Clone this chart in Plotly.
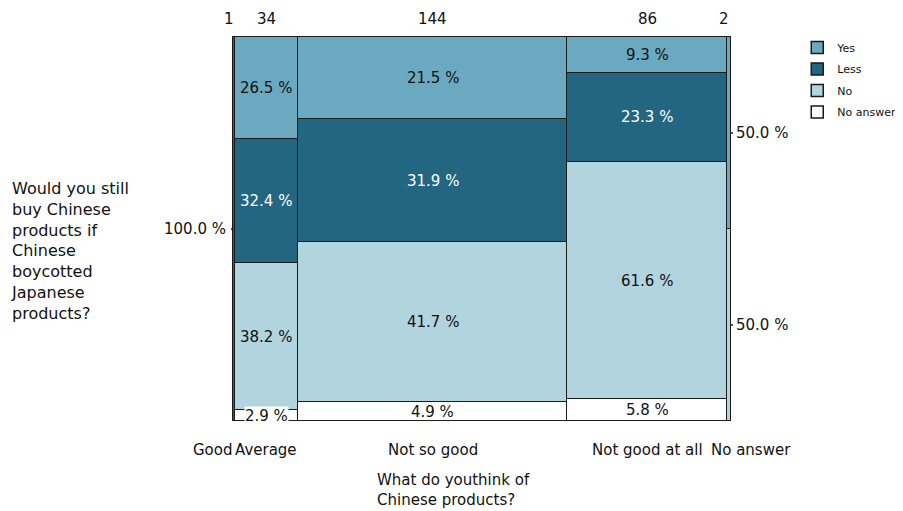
import plotly.graph_objects as go

# ---- data ----
columns = ["Good", "Average", "Not so good", "Not good at all", "No answer"]
counts = [1, 34, 144, 86, 2]
answers = ["Yes", "Less", "No", "No answer"]
pct_yes = [None, 26.5, 21.5, 9.3, 50.0]
pct_less = [100.0, 32.4, 31.9, 23.3, None]
pct_no = [None, 38.2, 41.7, 61.6, 50.0]
pct_na = [None, 2.9, 4.9, 5.8, None]
colors = {"Yes": "#6aa9c0", "Less": "#236682", "No": "#b2d4df", "No answer": "#ffffff"}
text_colors = {"Yes": "#111111", "Less": "#ffffff", "No": "#111111", "No answer": "#111111"}

x_title = "What do youthink of<br>Chinese products?"
y_title = "Would you still<br>buy Chinese<br>products if<br>Chinese<br>boycotted<br>Japanese<br>products?"

series = {"Yes": pct_yes, "Less": pct_less, "No": pct_no, "No answer": pct_na}

# column geometry from counts
total = sum(counts)
lefts = []
acc = 0
for c in counts:
    lefts.append(acc)
    acc += c
centers = [l + c / 2 for l, c in zip(lefts, counts)]

FONT = "DejaVu Sans"
fig = go.Figure()

# stack bottom to top: No answer, No, Less, Yes
stack_order = ["No answer", "No", "Less", "Yes"]
for name in stack_order:
    fig.add_trace(go.Bar(
        name=name, x=centers, y=series[name], width=counts, legendgroup=name,
        legendrank=answers.index(name) + 1,
        marker=dict(color=colors[name], line=dict(color="#1a1a1a", width=1.5)),
        hoverinfo="skip",
    ))

annotations = []
shapes = []
# in-cell labels
for i, col in enumerate(columns):
    base = 0.0
    for name in stack_order:
        v = series[name][i]
        if v is None:
            continue
        mid = base + v / 2
        base += v
        txt = f"{v:.1f} %"
        if counts[i] >= 10:
            a = dict(x=centers[i], y=mid, xref="x", yref="y", text=txt, showarrow=False,
                     font=dict(family=FONT, size=15, color=text_colors[name]))
            if name == "No answer" and v < 4:
                a["bgcolor"] = "white"
                a["borderpad"] = 0
            annotations.append(a)
        elif i == 0:
            annotations.append(dict(x=lefts[i], y=mid, xref="x", yref="y", text=txt, showarrow=False,
                                    xanchor="right", xshift=-5,
                                    font=dict(family=FONT, size=15, color="#111111")))
            shapes.append(dict(type="line", xref="x", yref="y", xsizemode="pixel", xanchor=lefts[i],
                               x0=-5, x1=0, y0=mid, y1=mid, line=dict(color="#111", width=1.5)))
        else:
            annotations.append(dict(x=lefts[i] + counts[i], y=mid, xref="x", yref="y", text=txt,
                                    showarrow=False, xanchor="left", xshift=3,
                                    font=dict(family=FONT, size=15, color="#111111")))
            shapes.append(dict(type="line", xref="x", yref="y", xsizemode="pixel",
                               xanchor=lefts[i] + counts[i],
                               x0=0, x1=4, y0=mid, y1=mid, line=dict(color="#111", width=1.5)))

# counts on top
count_shift = [-5, 0, 0, 0, -5]
for i, c in enumerate(counts):
    annotations.append(dict(x=centers[i], y=100, xref="x", yref="y", text=str(c), showarrow=False,
                            yanchor="bottom", yshift=7, xshift=count_shift[i],
                            font=dict(family=FONT, size=15, color="#111111")))

# category labels at bottom
cat_anchor = ["right", "center", "center", "center", "center"]
cat_x = [lefts[0] + counts[0], centers[1], centers[2], centers[3], centers[4]]
cat_shift = [0, 0, 0, 0, 22]
for i, col in enumerate(columns):
    annotations.append(dict(x=cat_x[i], y=0, xref="x", yref="y", text=col, showarrow=False,
                            xanchor=cat_anchor[i], yanchor="top", yshift=-18, xshift=cat_shift[i],
                            font=dict(family=FONT, size=15, color="#111111")))

# axis titles
annotations.append(dict(x=0.287, y=-0.113, xref="paper", yref="paper", text=x_title, showarrow=False,
                        xanchor="left", yanchor="top", align="left",
                        font=dict(family=FONT, size=15, color="#111111")))
annotations.append(dict(x=-0.442, y=0.443, xref="paper", yref="paper", text=y_title, showarrow=False,
                        xanchor="left", yanchor="middle", align="left",
                        font=dict(family=FONT, size=16, color="#111111")))

# the page body adds an 8px margin, so the figure is 8px smaller than the window
fig.update_layout(
    barmode="stack", bargap=0,
    width=895, height=503,
    margin=dict(l=223, r=170, t=25, b=86, autoexpand=False),
    plot_bgcolor="white", paper_bgcolor="white",
    xaxis=dict(range=[-1, total + 1], showgrid=False, zeroline=False, showticklabels=False,
               ticks="", showline=False),
    yaxis=dict(range=[-1, 101], showgrid=False, zeroline=False, showticklabels=False,
               ticks="", showline=False),
    legend=dict(x=1.128, y=1.0, xanchor="left", yanchor="top", traceorder="grouped",
                font=dict(family=FONT, size=11, color="#111111"), itemclick=False,
                bgcolor="rgba(0,0,0,0)", tracegroupgap=2.5, itemwidth=30),
    annotations=annotations, shapes=shapes,
    showlegend=True,
)

fig.write_html("out.html")
